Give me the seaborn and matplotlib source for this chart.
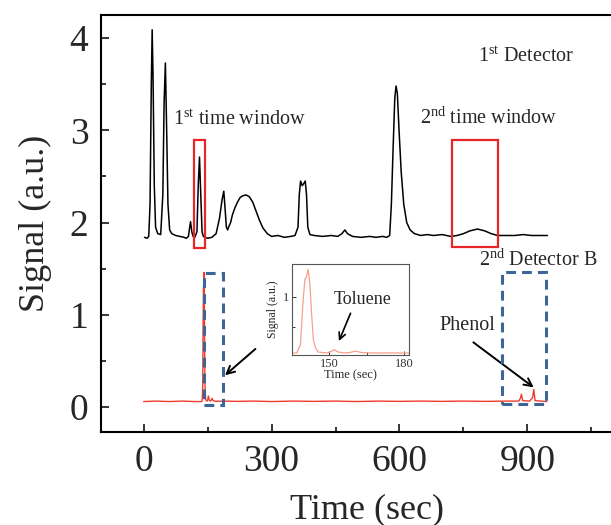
import numpy as np
import pandas as pd
import matplotlib
matplotlib.use("Agg")
import matplotlib.pyplot as plt
from matplotlib.patches import Rectangle
import seaborn as sns

# ---------------- data ----------------
det1_time = [2, 8, 12, 15, 18, 20, 22, 25, 28, 33, 40, 45, 48, 51, 54, 57, 61, 66, 75, 85,
             95, 100, 105, 108, 110, 113, 116, 120, 125, 128, 131, 134, 137, 140, 150, 160,
             170, 178, 184, 188, 191, 194, 197, 200, 204, 208, 214, 220, 226, 232, 240, 248,
             256, 264, 272, 280, 290, 300, 315, 330, 345, 355, 362, 365, 368, 372, 375, 379,
             382, 385, 390, 400, 420, 440, 455, 465, 472, 478, 490, 510, 530, 545, 560, 570,
             577, 581, 585, 589, 592, 595, 599, 604, 610, 617, 625, 635, 650, 665, 680, 700,
             720, 735, 750, 765, 783, 800, 815, 830, 850, 870, 890, 910, 930, 947]
det1_signal = [1.84, 1.83, 1.85, 2.2, 3.5, 4.09, 3.6, 2.4, 1.95, 1.88, 1.87, 2.3, 3.3, 3.73, 3.0, 2.2, 1.92, 1.88, 1.86, 1.85,
               1.84, 1.83, 1.85, 1.95, 2.01, 1.9, 1.85, 1.84, 1.9, 2.4, 2.71, 2.3, 1.9, 1.85, 1.83, 1.84,
               1.88, 2.05, 2.25, 2.34, 2.15, 1.95, 1.92, 1.96, 2.0, 2.08, 2.16, 2.22, 2.27, 2.29, 2.30, 2.28,
               2.22, 2.12, 2.02, 1.94, 1.88, 1.85, 1.86, 1.84, 1.85, 1.86, 1.95, 2.3, 2.45, 2.40, 2.42, 2.45,
               2.3, 1.95, 1.87, 1.86, 1.85, 1.86, 1.85, 1.88, 1.92, 1.88, 1.85, 1.84, 1.85, 1.84, 1.85, 1.84,
               1.86, 2.2, 2.8, 3.35, 3.48, 3.4, 3.0, 2.55, 2.2, 2.0, 1.92, 1.88, 1.86, 1.87, 1.86, 1.87,
               1.85, 1.86, 1.88, 1.91, 1.93, 1.91, 1.88, 1.86, 1.86, 1.86, 1.87, 1.86, 1.86, 1.86]

det2_time = [0, 30, 60, 90, 120, 135, 137, 138.5, 139.5, 140.3, 140.8, 141.6, 142.3, 143, 143.7,
             144.5, 145.6, 147.5, 149, 150.5, 152, 153.5, 156, 158, 160.7, 163, 166, 170, 175, 180,
             185, 220, 260, 300, 350, 400, 450, 500, 550, 600, 650, 700, 750, 800, 850, 880, 884,
             886, 889, 905, 912, 915, 918, 930, 945]
det2_signal = [0.06, 0.065, 0.06, 0.065, 0.06, 0.06, 0.065, 0.2, 0.9, 1.3, 1.32, 1.46, 1.2, 0.7, 0.28,
               0.15, 0.08, 0.07, 0.065, 0.08, 0.12, 0.08, 0.065, 0.07, 0.095, 0.07, 0.065, 0.063, 0.065, 0.062,
               0.065, 0.062, 0.065, 0.06, 0.065, 0.062, 0.065, 0.06, 0.065, 0.062, 0.065, 0.062, 0.065, 0.062, 0.065, 0.065, 0.10,
               0.14, 0.07, 0.065, 0.10, 0.19, 0.07, 0.065, 0.06]

x_ticks = [0, 300, 600, 900]
y_ticks = [0, 1, 2, 3, 4]
inset_x_ticks = [150, 180]
inset_y_ticks = [1]

# time windows (x0, x1, y0, y1)
red_windows = [(118, 145, 1.72, 2.89), (723, 832, 1.73, 2.89)]
blue_windows = [(141, 186, 0.025, 1.45), (841, 944, 0.03, 1.46)]

# ---------------- style ----------------
sns.set_style("ticks")
plt.rcParams["font.family"] = ["Liberation Serif", "DejaVu Serif"]
plt.rcParams["mathtext.fontset"] = "custom"
plt.rcParams["mathtext.rm"] = "Liberation Serif"
plt.rcParams["mathtext.it"] = "Liberation Serif:italic"

df1 = pd.DataFrame({"Time": det1_time, "Signal": det1_signal})
df2 = pd.DataFrame({"Time": det2_time, "Signal": det2_signal})

W, H = 611, 525
fig = plt.figure(figsize=(W / 100, H / 100), dpi=100)
fig.patch.set_facecolor("white")

left_px, right_px, top_px, bot_px = 101, 634, 15, 432
ax = fig.add_axes([left_px / W, 1 - bot_px / H, (right_px - left_px) / W, (bot_px - top_px) / H])

sns.lineplot(data=df1, x="Time", y="Signal", ax=ax, color="black", lw=1.1, sort=False, estimator=None)
sns.lineplot(data=df2, x="Time", y="Signal", ax=ax, color="#f03a2a", lw=1.0, sort=False, estimator=None)

ax.set_xlim(-100, 1150)
ax.set_ylim(-0.27, 4.25)
ax.set_xticks(x_ticks)
ax.set_xticks([150, 450, 750, 1050], minor=True)
ax.set_yticks(y_ticks)
ax.set_yticks([0.5, 1.5, 2.5, 3.5], minor=True)
ax.tick_params(which="major", direction="in", length=6, width=1.3, labelsize=27, pad=9)
ax.tick_params(which="minor", direction="in", length=3.8, width=1.3)
for s in ax.spines.values():
    s.set_linewidth(1.5)
    s.set_color("black")
ax.set_xlabel("Time (sec)", fontsize=26, labelpad=10)
ax.set_ylabel("Signal (a.u.)", fontsize=26, labelpad=13)

for (x0, x1, y0, y1) in red_windows:
    ax.add_patch(Rectangle((x0, y0), x1 - x0, y1 - y0, fill=False, ec="#e8262a", lw=1.6, zorder=5))
for (x0, x1, y0, y1) in blue_windows:
    ax.add_patch(Rectangle((x0, y0), x1 - x0, y1 - y0, fill=False, ec="#3d6597", lw=2.2,
                           ls=(0, (3.2, 2.0)), zorder=5))

ax.text(785, 3.79, r"1$^{\mathrm{st}}$ Detector", fontsize=14.5, va="center", ha="left")
ax.text(68, 3.11, r"1$^{\mathrm{st}}$ time window", fontsize=14.5, va="center", ha="left")
ax.text(648, 3.13, r"2$^{\mathrm{nd}}$ time window", fontsize=14.5, va="center", ha="left")
ax.text(787, 1.59, r"2$^{\mathrm{nd}}$ Detector B", fontsize=14.5, va="center", ha="left")
ax.text(694, 0.88, "Phenol", fontsize=14.5, va="center", ha="left")

ax.annotate("", xy=(920, 0.195), xytext=(768, 0.72),
            arrowprops=dict(arrowstyle="->", color="black", lw=1.4, mutation_scale=14))
ax.annotate("", xy=(186, 0.325), xytext=(267, 0.65),
            arrowprops=dict(arrowstyle="->", color="black", lw=1.4, mutation_scale=14))

# ---------------- inset ----------------
il, ir, it, ib = 291.7, 409, 264, 355
axi = fig.add_axes([il / W, 1 - ib / H, (ir - il) / W, (ib - it) / H])
sns.lineplot(data=df2, x="Time", y="Signal", ax=axi, color="#f7a08a", lw=0.9, sort=False, estimator=None)
axi.set_xlim(135, 182)
axi.set_ylim(0.03, 1.55)
axi.set_xticks(inset_x_ticks)
axi.set_xticks([165], minor=True)
axi.set_yticks(inset_y_ticks)
axi.set_yticks([0.5], minor=True)
axi.tick_params(which="major", direction="in", length=3, width=0.7, labelsize=9, pad=2, colors="#333333")
axi.tick_params(which="minor", direction="in", length=2, width=0.7, colors="#333333")
for s in axi.spines.values():
    s.set_linewidth(0.8)
    s.set_color("#555555")
axi.set_xlabel("Time (sec)", fontsize=9, labelpad=0)
axi.set_ylabel("Signal (a.u.)", fontsize=8.5, labelpad=3)
axi.text(152, 0.95, "Toluene", fontsize=13, va="center", ha="left")
axi.annotate("", xy=(153.5, 0.22), xytext=(159, 0.77),
             arrowprops=dict(arrowstyle="->", color="black", lw=1.2, mutation_scale=12))

fig.savefig("out.png", dpi=100)
